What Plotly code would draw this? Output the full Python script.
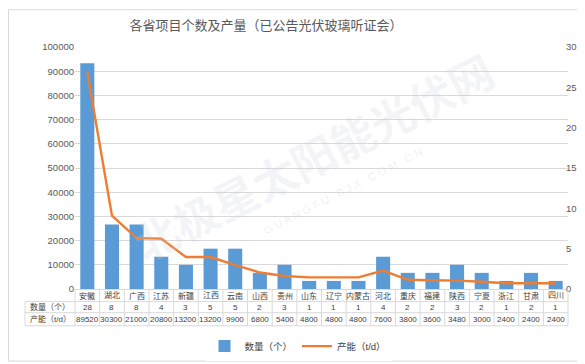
import plotly.graph_objects as go

provinces = ["安徽", "湖北", "广西", "江苏", "新疆", "江西", "云南", "山西", "贵州", "山东",
             "辽宁", "内蒙古", "河北", "重庆", "福建", "陕西", "宁夏", "浙江", "甘肃", "四川"]
counts = [28, 8, 8, 4, 3, 5, 5, 2, 3, 1, 1, 1, 4, 2, 2, 3, 2, 1, 2, 1]
capacity = [89520, 30300, 21000, 20800, 13200, 13200, 9900, 6800, 5400, 4800,
            4800, 4800, 7600, 3800, 3600, 3480, 3000, 2400, 2400, 2400]
left_ticks = list(range(0, 100001, 10000))
right_ticks = list(range(0, 31, 5))
count_label = "数量（个）"
cap_label = "产能（t/d）"
title = "各省项目个数及产量（已公告光伏玻璃听证会）"

W, H = 585, 364
L, R, T, B = 67, 25, 39, 75
PW, PH = W - L - R, H - T - B
FONT = "Liberation Sans, Arial, Noto Sans CJK SC"
TXT = "#404040"
GRID = "#D9D9D9"

def px(x):  # pixel x -> paper
    return (x - L) / PW

def py(y):  # pixel y -> paper
    return (H - B - y) / PH

fig = go.Figure()
fig.add_trace(go.Bar(x=provinces, y=counts, name=count_label, yaxis="y",
                     marker=dict(color="#5B9BD5", line=dict(width=0))))
fig.add_trace(go.Scatter(x=provinces, y=capacity, name=cap_label, yaxis="y2",
                         mode="lines", line=dict(color="#ED7D31", width=2.4)))

shapes = []
n = len(provinces)
row_lines = [302, 313.5, 327]
for yy in row_lines:
    shapes.append(dict(type="line", xref="paper", yref="paper", x0=px(17), x1=1,
                       y0=py(yy), y1=py(yy), line=dict(color=GRID, width=1)))
for i in range(n + 1):
    xp = i / n
    shapes.append(dict(type="line", xref="paper", yref="paper", x0=xp, x1=xp,
                       y0=0, y1=py(327), line=dict(color=GRID, width=1)))
shapes.append(dict(type="line", xref="paper", yref="paper", x0=px(17), x1=px(17),
                   y0=py(302), y1=py(327), line=dict(color=GRID, width=1)))
shapes.append(dict(type="rect", xref="paper", yref="paper", x0=px(0.5), x1=px(W - 0.5),
                   y0=py(H - 0.5), y1=py(0.5), line=dict(color="#D9D9D9", width=1)))

def cell(x, xref, y, text):
    return dict(x=x, xref=xref, y=y, yref="paper", text=text, showarrow=False,
                xanchor="center", yanchor="middle",
                font=dict(size=8, color=TXT, family=FONT))

ann = []
for p, c, v in zip(provinces, counts, capacity):
    ann.append(cell(p, "x", py(296), p))
    ann.append(cell(p, "x", py(307.8), str(c)))
    ann.append(cell(p, "x", py(320.5), str(v)))
ann.append(cell(px(42), "paper", py(307.8), count_label))
ann.append(cell(px(42), "paper", py(320.5), cap_label))
# watermark
ann.append(dict(x=px(305), xref="paper", y=py(152), yref="paper", text="<b>北极星太阳能光伏网</b>",
                textangle=-27, showarrow=False, xanchor="center", yanchor="middle",
                font=dict(size=44, color="rgba(200,207,220,0.22)", family="Noto Sans CJK SC")))
ann.append(dict(x=px(335), xref="paper", y=py(188), yref="paper",
                text="G U A N G F U . B J X . C O M . C N",
                textangle=-27, showarrow=False, xanchor="center", yanchor="middle",
                font=dict(size=11, color="rgba(200,207,220,0.30)", family=FONT)))

fig.update_layout(
    width=W, height=H,
    margin=dict(l=L, r=R, t=T, b=B),
    paper_bgcolor="white", plot_bgcolor="white",
    title=dict(text=title, x=258 / W, xref="container", xanchor="center",
               y=1 - 17 / H, yanchor="middle",
               font=dict(size=13, color="#595959", family="Noto Sans CJK SC")),
    bargap=0.43,
    showlegend=True,
    legend=dict(orientation="h", x=px(290), xanchor="center", y=py(348), yanchor="middle",
                font=dict(size=9.5, color=TXT, family=FONT), itemwidth=30),
    xaxis=dict(type="category", categoryorder="array", categoryarray=provinces,
               showticklabels=False, showgrid=False, zeroline=False,
               showline=True, linecolor=GRID, linewidth=1, range=[-0.5, n - 0.5]),
    yaxis=dict(side="right", range=[0, 30], tickvals=right_ticks, showgrid=False,
               zeroline=False, ticklabelstandoff=-3,
               tickfont=dict(size=9.5, color="#595959", family=FONT)),
    yaxis2=dict(side="left", overlaying="y", range=[0, 100000], tickvals=left_ticks,
                tickformat="d", showgrid=True, gridcolor=GRID, gridwidth=1, zeroline=False,
                tickfont=dict(size=9.5, color="#595959", family=FONT)),
    shapes=shapes,
    annotations=ann,
)
fig.write_html("out.html")
